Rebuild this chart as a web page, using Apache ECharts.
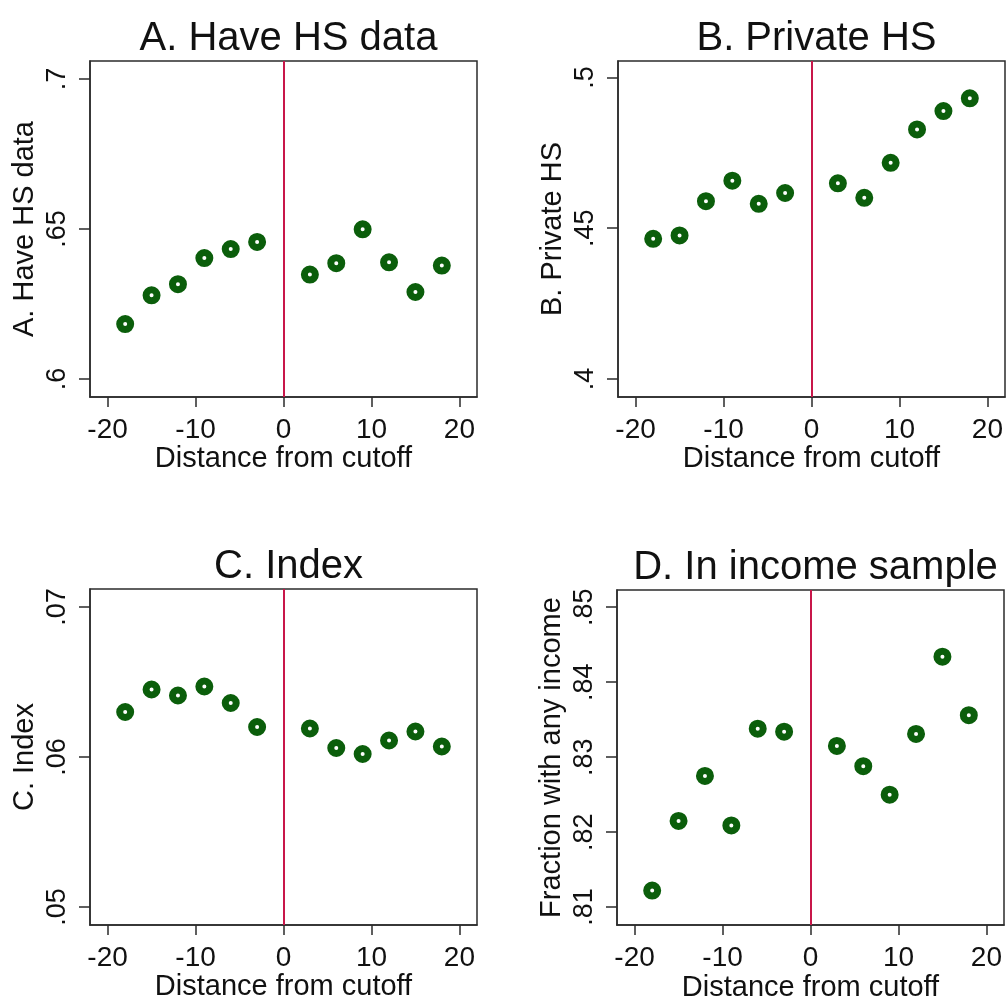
<!DOCTYPE html>
<html>
<head>
<meta charset="utf-8">
<title>Distance from cutoff</title>
<script src="https://cdn.jsdelivr.net/npm/echarts@6/dist/echarts.min.js"></script>
<style>
    html, body { margin: 0; padding: 0; background: #fff; }
    #chart { width: 1006px; height: 1003px; }
</style>
</head>
<body>
<div id="chart"></div>
<script>
// bins of distance from the cutoff
var bins = [-18, -15, -12, -9, -6, -3, 3, 6, 9, 12, 15, 18];
var cutoff = 0;

// panel values
var haveHsData = [0.6183, 0.6279, 0.6316, 0.6403, 0.6433, 0.6457, 0.6348, 0.6386, 0.6499, 0.6389, 0.6290, 0.6378];
var privateHs = [0.4465, 0.4476, 0.4590, 0.4658, 0.4581, 0.4617, 0.4649, 0.4601, 0.4717, 0.4828, 0.4889, 0.4931];
var indexVals = [0.0630, 0.0645, 0.0641, 0.0647, 0.0636, 0.0620, 0.0619, 0.0606, 0.0602, 0.0611, 0.0617, 0.0607];
var anyIncome = [0.8122, 0.8215, 0.8275, 0.8209, 0.8338, 0.8334, 0.8315, 0.8288, 0.8250, 0.8331, 0.8434, 0.8356];

// tick labels
var xTicks = [-20, -10, 0, 10, 20];
var yTicksA = [0.6, 0.65, 0.7];
var yTicksB = [0.4, 0.45, 0.5];
var yTicksC = [0.05, 0.06, 0.07];
var yTicksD = [0.81, 0.82, 0.83, 0.84, 0.85];

var titles = ['A. Have HS data', 'B. Private HS', 'C. Index', 'D. In income sample'];
var yNames = ['A. Have HS data', 'B. Private HS', 'C. Index', 'Fraction with any income'];
var xName = 'Distance from cutoff';

var font = '"Liberation Sans", Arial, sans-serif';
var green = '#0b5e0b';
var red = '#c8174a';
var lineColor = '#2b2b2b';

var panels = [
    {values: haveHsData, ticks: yTicksA, min: 0.594, max: 0.706, left: 90, top: 61},
    {values: privateHs, ticks: yTicksB, min: 0.394, max: 0.5055, left: 618, top: 61},
    {values: indexVals, ticks: yTicksC, min: 0.0488, max: 0.0712, left: 90, top: 589},
    {values: anyIncome, ticks: yTicksD, min: 0.8076, max: 0.8523, left: 617, top: 590}
];

function stripZero(v) {
    return String(v).replace(/^0\./, '.').replace(/^-0\./, '-.');
}

function buildOption() {
    var option = {
        backgroundColor: '#fff',
        animation: false,
        title: [],
        grid: [],
        xAxis: [],
        yAxis: [],
        series: []
    };
    var tickAxes = [];
    panels.forEach(function (p, i) {
        var w = 387, h = 336;
        option.title.push({
            text: titles[i],
            left: p.left + w / 2,
            top: p.top - 27,
            textAlign: 'center',
            textVerticalAlign: 'middle',
            textStyle: {fontFamily: font, fontSize: 40, fontWeight: 'normal', color: '#111'}
        });
        option.grid.push({
            left: p.left, top: p.top, width: w, height: h,
            show: true, borderColor: lineColor, borderWidth: 1.5
        });
        option.xAxis.push({
            type: 'value', gridIndex: i, min: -22, max: 22, position: 'bottom',
            name: xName, nameLocation: 'middle', nameGap: 46,
            nameTextStyle: {fontFamily: font, fontSize: 29, color: '#111'},
            axisLine: {show: true, onZero: false, lineStyle: {color: lineColor, width: 1.5}},
            axisTick: {show: true, length: 10, customValues: xTicks, lineStyle: {color: lineColor, width: 1.5}},
            axisLabel: {customValues: xTicks, margin: 19, fontFamily: font, fontSize: 28, color: '#111'},
            splitLine: {show: false}
        });
        // tick-only copy of the x axis, so the tick marks always show
        tickAxes.push({
            type: 'value', gridIndex: i, min: -22, max: 22, position: 'bottom', offset: 0,
            axisLine: {show: false, onZero: false},
            axisTick: {show: true, length: 10, customValues: xTicks, lineStyle: {color: lineColor, width: 1.5}},
            axisLabel: {show: false},
            splitLine: {show: false}
        });
        option.yAxis.push({
            type: 'value', gridIndex: i, min: p.min, max: p.max,
            name: yNames[i], nameLocation: 'middle', nameGap: 51,
            nameTextStyle: {fontFamily: font, fontSize: 29, color: '#111'},
            axisLine: {show: true, onZero: false, lineStyle: {color: lineColor, width: 1.5}},
            axisTick: {show: true, length: 11, customValues: p.ticks, lineStyle: {color: lineColor, width: 1.5}},
            axisLabel: {
                customValues: p.ticks, rotate: 90, margin: 19,
                fontFamily: font, fontSize: 27, color: '#111',
                formatter: function (v) { return stripZero(v); }
            },
            splitLine: {show: false}
        });
        option.series.push({
            type: 'scatter', xAxisIndex: i, yAxisIndex: i,
            data: bins.map(function (b, k) { return [b, p.values[k]]; }),
            symbol: 'circle', symbolSize: 11,
            itemStyle: {color: '#fff', borderColor: green, borderWidth: 7, opacity: 1},
            z: 3,
            markLine: {
                silent: true, symbol: 'none', animation: false,
                label: {show: false},
                lineStyle: {color: red, width: 2, type: 'solid'},
                data: [{xAxis: cutoff}],
                z: 2
            }
        });
    });
    option.xAxis = option.xAxis.concat(tickAxes);
    return option;
}

var chart = echarts.init(document.getElementById('chart'));
chart.setOption(buildOption());
</script>
</body>
</html>
